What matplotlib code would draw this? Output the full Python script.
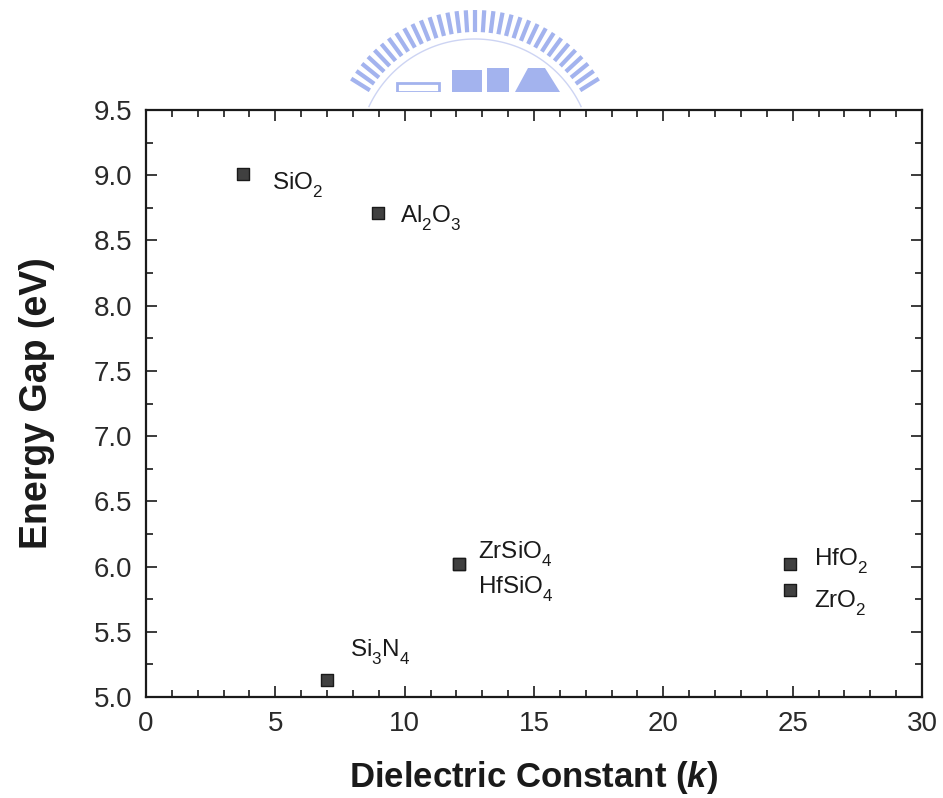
import matplotlib.pyplot as plt
import matplotlib._mathtext as mt
import numpy as np
from matplotlib.patches import Rectangle, Polygon
from matplotlib.ticker import MultipleLocator

plt.rcParams['font.family'] = ['Liberation Sans', 'DejaVu Sans']
plt.rcParams['mathtext.fontset'] = 'custom'
plt.rcParams['mathtext.rm'] = 'Liberation Sans'
plt.rcParams['mathtext.it'] = 'Liberation Sans:italic'
plt.rcParams['mathtext.bf'] = 'Liberation Sans:bold'
plt.rcParams['mathtext.bfit'] = 'Liberation Sans:bold:italic'
# the original drops its subscripts quite low
mt.FontConstantsBase.sub1 = 0.65
mt.FontConstantsBase.sub2 = 0.65

# data
materials = ['SiO$_2$', 'Al$_2$O$_3$', 'Si$_3$N$_4$',
             'ZrSiO$_4$', 'HfSiO$_4$', 'HfO$_2$', 'ZrO$_2$']
k_values = [3.75, 8.95, 7.0, 12.1, 12.1, 24.9, 24.9]
gap_values = [9.01, 8.71, 5.13, 6.02, 6.02, 6.02, 5.82]
# label offsets in points (text placement only)
label_dx = [21, 16, 16.5, 13.5, 13.5, 17, 17.5]
label_dy = [-11.5, -7, 17, 4, -21, -1.5, -12.5]

fig = plt.figure(figsize=(9.43, 7.98), dpi=100)
ax = fig.add_axes([146 / 943, 101 / 798, 776 / 943, 587 / 798])

ax.scatter(k_values, gap_values, marker='s', s=70, c='#404040',
           edgecolors='#1a1a1a', linewidths=1, zorder=3)

for name, x, y, dx, dy in zip(materials, k_values, gap_values, label_dx, label_dy):
    ax.annotate(name, xy=(x, y), xytext=(dx, dy), textcoords='offset points',
                ha='left', va='baseline', fontsize=17.5, color='#1a1a1a')

ax.set_xlim(0, 30)
ax.set_ylim(5.0, 9.5)
ax.xaxis.set_major_locator(MultipleLocator(5))
ax.xaxis.set_minor_locator(MultipleLocator(1))
ax.yaxis.set_major_locator(MultipleLocator(0.5))
ax.yaxis.set_minor_locator(MultipleLocator(0.25))
ax.yaxis.set_major_formatter(plt.FormatStrFormatter('%.1f'))

ax.tick_params(which='both', direction='in', top=True, right=True,
               colors='#1a1a1a', labelcolor='#2a2a2a', width=1.2)
ax.tick_params(which='major', length=8, labelsize=20)
ax.tick_params(axis='x', which='major', pad=10)
ax.tick_params(axis='y', which='major', pad=10)
ax.tick_params(which='minor', length=5)
for sp in ax.spines.values():
    sp.set_linewidth(1.6)
    sp.set_color('#1a1a1a')

ax.set_xlabel(r'Dielectric Constant ($\mathbfit{k}$)', fontsize=25,
              fontweight='bold', color='#1a1a1a', labelpad=16)
ax.set_ylabel('Energy Gap (eV)', fontsize=27, fontweight='bold',
              color='#1a1a1a', labelpad=28)

# faint watermark logo above the plot (figure pixel space)
wm = fig.add_axes([0, 0, 1, 1], zorder=-1)
wm.set_xlim(0, 943)
wm.set_ylim(798, 0)
wm.axis('off')
blue = '#a3b3ee'
cx, cy, r_out, r_in = 475, 156, 146, 124
for a in np.linspace(np.radians(212), np.radians(328), 33):
    w = 0.017
    pts = [(cx + r_in * np.cos(a - w), cy + r_in * np.sin(a - w)),
           (cx + r_out * np.cos(a - w * 0.85), cy + r_out * np.sin(a - w * 0.85)),
           (cx + r_out * np.cos(a + w * 0.85), cy + r_out * np.sin(a + w * 0.85)),
           (cx + r_in * np.cos(a + w), cy + r_in * np.sin(a + w))]
    wm.add_patch(Polygon(pts, closed=True, fc=blue, ec='none'))
t = np.linspace(np.radians(205), np.radians(335), 120)
wm.plot(cx + 117 * np.cos(t), cy + 117 * np.sin(t), color='#cdd4f3', lw=1)
wm.add_patch(Rectangle((397, 83), 42, 9, fc='none', ec=blue, lw=2))
wm.add_patch(Rectangle((452, 70), 30, 22, fc=blue, ec='none'))
wm.add_patch(Rectangle((487, 68), 22, 24, fc=blue, ec='none'))
wm.add_patch(Polygon([(515, 92), (528, 68), (545, 68), (560, 92)], fc=blue, ec='none'))
wm.add_patch(Rectangle((0, 92), 943, 20, fc='white', ec='none'))

fig.savefig('out.png', dpi=100)
